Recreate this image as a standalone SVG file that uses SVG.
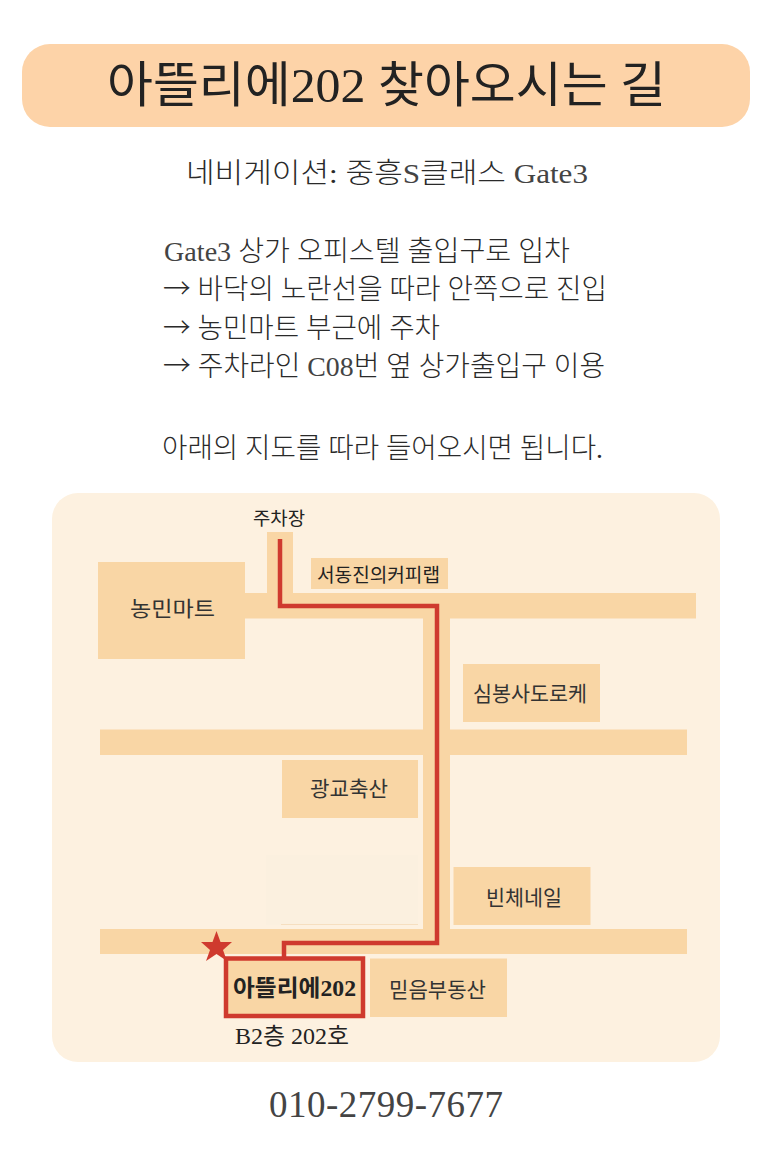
<svg xmlns="http://www.w3.org/2000/svg" width="773" height="1159" viewBox="0 0 773 1159">
<style>
text{font-family:"Liberation Serif","Noto Sans CJK KR",sans-serif;fill:#222}
.b{fill:#f9d6a5}
.t{font-size:28px;fill:#2a2a2a;font-weight:300}
.a{font-family:"Noto Sans CJK KR",sans-serif;font-weight:300}
.l{fill:#444}
.m{font-size:21px;fill:#333;font-weight:400}
.r{fill:none;stroke:#cf3a2e;stroke-width:4.5}
</style>
<rect width="773" height="1159" fill="#fff"/>
<g id="title"><rect x="22" y="44" width="728" height="83" rx="28" fill="#fdd3a8"/><text x="107" y="102" font-size="49" font-weight="400" fill="#111" textLength="559" lengthAdjust="spacingAndGlyphs">아뜰리에202 찾아오시는 길</text></g>
<g id="info">
<text class="t" x="186" y="183" font-size="30" textLength="402" lengthAdjust="spacingAndGlyphs">네비게이션: 중흥<tspan class="l">S</tspan>클래스 <tspan class="l">Gate3</tspan></text>
<text class="t" x="164" y="261" textLength="406" lengthAdjust="spacingAndGlyphs"><tspan class="l">Gate3</tspan> 상가 오피스텔 출입구로 입차</text>
<text class="t" x="163" y="299" textLength="444" lengthAdjust="spacingAndGlyphs"><tspan class="a">→</tspan> 바닥의 노란선을 따라 안쪽으로 진입</text>
<text class="t" x="163" y="338" textLength="277" lengthAdjust="spacingAndGlyphs"><tspan class="a">→</tspan> 농민마트 부근에 주차</text>
<text class="t" x="163" y="376" textLength="442" lengthAdjust="spacingAndGlyphs"><tspan class="a">→</tspan> 주차라인 <tspan class="l">C08</tspan>번 옆 상가출입구 이용</text>
<text class="t" x="162" y="458" textLength="441" lengthAdjust="spacingAndGlyphs">아래의 지도를 따라 들어오시면 됩니다.</text>
</g>
<g id="map">
<rect x="52" y="493" width="668" height="569" rx="26" fill="#fdf1e0"/>
<rect x="266" y="855" width="152" height="70" fill="#fbf0df"/>
<rect x="281" y="924" width="137" height="1" fill="#f6dfc0"/>
<rect class="b" x="267" y="532" width="26" height="70"/>
<rect class="b" x="245" y="593" width="451" height="25.500"/>
<rect class="b" x="423" y="593" width="27" height="360"/>
<rect class="b" x="100" y="729.500" width="587" height="25.500"/>
<rect class="b" x="100" y="929" width="587" height="25"/>
</g>
<g id="mart"><rect class="b" x="98" y="562" width="147" height="97"/><text class="m" x="130" y="616" textLength="85" lengthAdjust="spacingAndGlyphs">농민마트</text></g>
<g id="parking"><text x="253" y="525" font-size="18" textLength="52" lengthAdjust="spacingAndGlyphs">주차장</text></g>
<g id="cafe"><rect class="b" x="311" y="558" width="137" height="31"/><text x="317" y="582" font-size="19" fill="#333" textLength="123" lengthAdjust="spacingAndGlyphs">서동진의커피랩</text></g>
<g id="simbong"><rect class="b" x="463" y="664" width="137" height="58"/><text class="m" x="473" y="701" textLength="114" lengthAdjust="spacingAndGlyphs">심봉사도로케</text></g>
<g id="butcher"><rect class="b" x="282" y="760" width="136" height="58"/><text class="m" x="310" y="796" textLength="78" lengthAdjust="spacingAndGlyphs">광교축산</text></g>
<g id="nail"><rect class="b" x="453.500" y="867" width="137" height="58"/><text class="m" x="486" y="905" textLength="76" lengthAdjust="spacingAndGlyphs">빈체네일</text></g>
<g id="realty"><rect class="b" x="370" y="958.500" width="137" height="58.500"/><text class="m" x="389" y="997" textLength="97" lengthAdjust="spacingAndGlyphs">믿음부동산</text></g>
<g id="connectors"><path class="r" d="M280 539V606H437V943H284V958"/></g>
<g id="atelier"><rect x="226" y="958.500" width="137" height="57.500" fill="#f9d6a5" stroke="#cf3a2e" stroke-width="4.500"/><text x="233" y="996" font-size="23" font-weight="700" fill="#111" textLength="123" lengthAdjust="spacingAndGlyphs">아뜰리에202</text><text x="235" y="1044" font-size="23" fill="#222" textLength="114" lengthAdjust="spacingAndGlyphs">B2층 202호</text></g>
<g id="star"><polygon points="216.500,931 220.500,942 232,942 223,950 227,961 216.500,954 206,961 210,950 201,942 212.500,942" fill="#cf3a2e"/></g>
<g id="phone"><text x="269" y="1117" font-size="37" class="l" textLength="234" lengthAdjust="spacing">010-2799-7677</text></g>
</svg>
